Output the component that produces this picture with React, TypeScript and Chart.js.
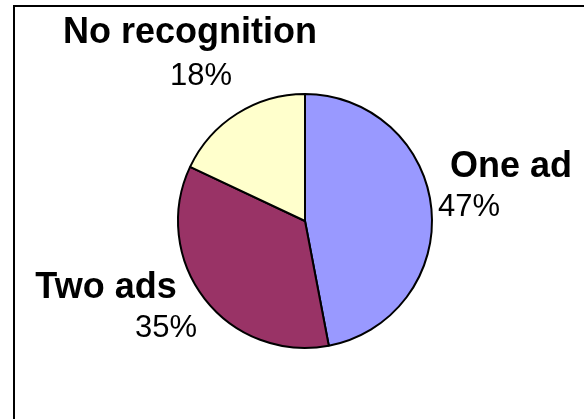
import React, { useEffect, useRef } from "react";
import { Chart, registerables } from "chart.js";

Chart.register(...registerables);

const categories = ["One ad", "Two ads", "No recognition"];
const values = [47, 35, 18];
const percentLabels = ["47%", "35%", "18%"];
const sliceColors = ["#9999FF", "#993366", "#FFFFCC"];

// label anchor positions (canvas px): [nameX, nameBaseline, pctX, pctBaseline]
const labelLayout = [
  [511, 177, 469, 216],
  [106, 298, 166, 337],
  [190, 43, 201, 85],
];

const labelPlugin = {
  id: "pieLabels",
  afterDraw(chart: any) {
    const ctx = chart.ctx;
    ctx.save();
    ctx.fillStyle = "#000";
    ctx.textAlign = "center";
    ctx.textBaseline = "alphabetic";
    categories.forEach((name, i) => {
      const [nx, ny, px, py] = labelLayout[i];
      ctx.font = "bold 36px 'Liberation Sans', Arial, sans-serif";
      ctx.fillText(name, nx, ny);
      ctx.font = "31px 'Liberation Sans', Arial, sans-serif";
      ctx.fillText(percentLabels[i], px, py);
    });
    ctx.restore();
  },
};

export default function App() {
  const ref = useRef<HTMLCanvasElement>(null);
  useEffect(() => {
    if (!ref.current) return;
    const chart = new Chart(ref.current, {
      type: "pie",
      data: {
        labels: categories,
        datasets: [
          {
            data: values,
            backgroundColor: sliceColors,
            borderColor: "#000",
            borderWidth: 2,
          },
        ],
      },
      options: {
        responsive: false,
        animation: false,
        layout: { padding: { left: 177, right: 151, top: 91, bottom: 68 } },
        plugins: {
          legend: { display: false },
          tooltip: { enabled: false },
        },
      },
      plugins: [labelPlugin],
    });
    return () => chart.destroy();
  }, []);

  return (
    <div
      style={{
        position: "absolute",
        left: 0,
        top: 0,
        width: 584,
        height: 419,
        background: "#fff",
        overflow: "hidden",
      }}
    >
      <div
        style={{
          position: "absolute",
          left: 13,
          top: 5,
          width: 600,
          height: 440,
          borderTop: "2px solid #000",
          borderLeft: "2px solid #000",
          boxSizing: "border-box",
        }}
      />
      <canvas
        ref={ref}
        width={584}
        height={419}
        style={{ position: "absolute", left: 0, top: 0 }}
      />
    </div>
  );
}
